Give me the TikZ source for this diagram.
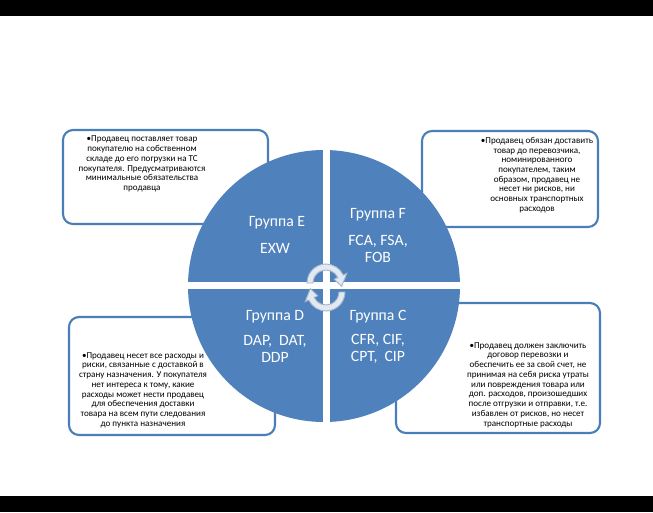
\documentclass[tikz,border=0pt]{standalone}
\usepackage{fontspec}
\setmainfont{Carlito}
\definecolor{qblue}{HTML}{4F81BD}
\definecolor{boxblue}{HTML}{4A7EBB}
\definecolor{arrowfill}{HTML}{E3E9F1}
\definecolor{arrowline}{HTML}{A3B5CD}
\begin{document}
\begin{tikzpicture}[x=0.75pt,y=-0.75pt,
  infobox/.style={draw=boxblue, line width=1.6pt, rounded corners=7.5pt, fill=white},
  smalltxt/.style={align=center, font=\fontsize{6.8}{7.3}\selectfont, inner sep=0pt, text=black},
  bigtxt/.style={align=center, font=\fontsize{11.8}{12.8}\selectfont, inner sep=0pt, text=white},
  cyc/.style={fill=arrowfill, draw=arrowline, line width=0.7pt}]
\useasboundingbox (0,0) rectangle (653,512);
\fill[white] (0,0) rectangle (653,512);
\fill[black] (0,0) rectangle (653,16);
\fill[black] (0,496) rectangle (653,512);
% boxes
\draw[infobox] (63,130) rectangle (268,224);
\draw[infobox] (422,131) rectangle (598,227);
\draw[infobox] (69,317) rectangle (275,435);
\draw[infobox] (396,303) rectangle (600,433);
% circle
\fill[qblue] (324,286) circle[radius=136];
\begin{scope}
  \clip (324,286) circle[radius=137];
  \fill[white] (322.5,140) rectangle (329.5,430);
  \fill[white] (180,281.5) rectangle (470,288.5);
\end{scope}
% cycle arrows
\begin{scope}[shift={(326,283)}]
  \path[cyc] (180:19) arc[start angle=180, end angle=335, radius=19]
     -- (335:23) -- (372:16) -- (335:9) -- (335:13)
     arc[start angle=335, end angle=180, radius=13] -- cycle;
\end{scope}
\begin{scope}[shift={(326,292)}]
  \path[cyc] (0:19) arc[start angle=0, end angle=155, radius=19]
     -- (155:23) -- (192:16) -- (155:9) -- (155:13)
     arc[start angle=155, end angle=0, radius=13] -- cycle;
\end{scope}
% circle texts
\node[bigtxt] (tE) at (277,223) {Группа E};
\node[bigtxt] (cE) at (275,248) {EXW};
\node[bigtxt] (tF) at (378,215) {Группа F};
\node[bigtxt] (cF) at (378,248.5) {FCA, FSA,\\FOB};
\node[bigtxt] (tD) at (275,317) {Группа D};
\node[bigtxt] (cD) at (275,348.5) {DAP,\ \ DAT,\\DDP};
\node[bigtxt] (tC) at (378,317) {Группа C};
\node[bigtxt] (cC) at (378,348.5) {CFR, CIF,\\CPT,\ \ CIP};
% box texts
\node[smalltxt] (xE) at (142,164) {•Продавец поставляет товар\\покупателю на собственном\\складе до его погрузки на ТС\\покупателя. Предусматриваются\\минимальные обязательства\\продавца};
\node[smalltxt] (xF) at (537,175) {•Продавец обязан доставить\\товар до перевозчика,\\номинированного\\покупателем, таким\\образом, продавец не\\несет ни рисков, ни\\основных транспортных\\расходов};
\node[smalltxt] (xD) at (143,390) {•Продавец несет все расходы и\\риски, связанные с доставкой в\\страну назначения. У покупателя\\нет интереса к тому, какие\\расходы может нести продавец\\для обеспечения доставки\\товара на всем пути следования\\до пункта назначения};
\node[smalltxt] (xC) at (528,385) {•Продавец должен заключить\\договор перевозки и\\обеспечить ее за свой счет, не\\принимая на себя риска утраты\\или повреждения товара или\\доп. расходов, произошедших\\после отгрузки и отправки, т.е.\\избавлен от рисков, но несет\\транспортные расходы};
\end{tikzpicture}
\end{document}
